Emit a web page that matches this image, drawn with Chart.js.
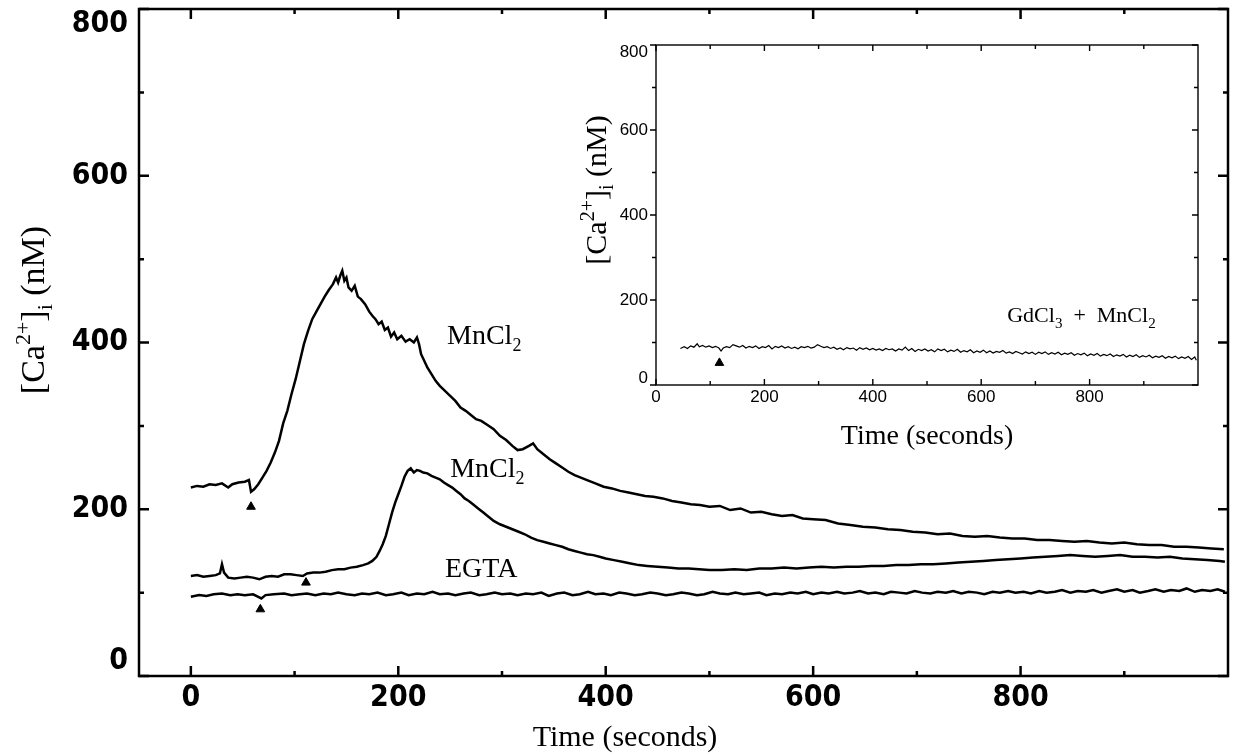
<!DOCTYPE html>
<html>
<head>
<meta charset="utf-8">
<script src="https://cdn.jsdelivr.net/npm/chart.js@4.4.1/dist/chart.umd.min.js"></script>
<style>
  body { margin: 0; background: #fff; }
  #wrap { position: relative; width: 1235px; height: 755px; overflow: hidden; }
  #main { position: absolute; left: 0; top: 0; }
  #inset { position: absolute; left: 560px; top: 30px; }
</style>
</head>
<body>
<div id="wrap">
  <canvas id="main" width="1235" height="755"></canvas>
  <canvas id="inset" width="655" height="430"></canvas>
</div>
<script>
// ---- data: [time (s), [Ca2+]i (nM)] ----
const mnHigh = [[0,226],[6,228],[12,227],[18,230],[24,229],[30,231],[36,226],[40,230],[46,232],[52,233],[56,235],[58,221],[61,224],[65,230],[69,238],[73,246],[77,256],[81,268],[85,282],[89,303],[93,318],[97,338],[101,356],[105,377],[109,398],[113,414],[117,428],[121,437],[125,446],[129,455],[133,463],[137,470],[140,478],[142,472],[144,480],[146,486],[148,474],[150,478],[152,466],[155,462],[158,468],[161,455],[164,452],[168,446],[172,437],[175,432],[178,428],[181,422],[184,425],[187,415],[190,418],[193,407],[196,412],[199,404],[203,408],[207,401],[211,404],[215,400],[218,406],[220,398],[222,386],[225,378],[228,370],[232,362],[236,354],[240,348],[245,342],[250,336],[255,330],[260,322],[265,318],[270,313],[275,308],[280,306],[286,301],[292,296],[298,288],[304,283],[310,276],[315,271],[320,272],[326,276],[330,279],[334,272],[340,266],[346,260],[352,255],[358,250],[364,245],[370,241],[376,238],[382,235],[390,231],[398,227],[406,225],[414,222],[422,220],[430,218],[438,216],[446,215],[455,213],[464,210],[473,208],[482,206],[491,205],[500,203],[510,204],[520,199],[530,201],[540,196],[550,197],[560,194],[570,192],[580,193],[590,189],[600,188],[612,187],[624,183],[636,181],[648,179],[660,178],[672,176],[684,175],[696,173],[708,172],[720,170],[732,171],[744,168],[756,167],[768,168],[780,166],[792,165],[804,165],[816,163],[828,163],[840,162],[852,161],[864,162],[876,160],[888,159],[900,160],[912,158],[924,157],[936,157],[948,155],[960,155],[972,154],[984,153],[996,152]];

const mnLow = [[0,120],[6,121],[12,119],[18,120],[24,121],[28,123],[30,134],[32,124],[36,118],[42,117],[48,118],[54,119],[60,118],[66,116],[72,119],[78,120],[84,119],[90,122],[96,122],[102,121],[108,120],[112,123],[118,124],[124,124],[130,125],[136,127],[142,128],[148,128],[154,130],[160,131],[166,133],[171,135],[175,138],[179,143],[182,150],[185,158],[188,168],[191,182],[194,196],[197,208],[200,218],[203,228],[206,239],[209,246],[212,249],[215,244],[218,247],[221,246],[224,244],[228,243],[232,240],[236,238],[240,236],[244,232],[248,229],[252,226],[256,222],[260,218],[264,213],[268,210],[272,206],[277,201],[282,196],[287,191],[292,186],[298,182],[304,179],[310,176],[316,173],[322,170],[328,166],[334,163],[340,161],[346,159],[352,157],[358,155],[364,152],[370,150],[376,148],[382,146],[388,145],[394,143],[400,141],[408,139],[416,137],[424,135],[432,133],[440,132],[450,131],[460,130],[470,129],[480,129],[490,128],[500,127],[512,127],[524,128],[536,127],[548,129],[560,129],[572,130],[584,129],[596,130],[608,131],[620,130],[632,131],[644,131],[656,132],[668,132],[680,133],[692,133],[704,134],[716,134],[728,135],[740,136],[752,137],[764,138],[776,139],[788,140],[800,141],[812,142],[824,143],[836,144],[848,145],[860,144],[872,143],[884,144],[896,145],[908,143],[920,143],[932,142],[944,143],[956,141],[968,140],[980,139],[992,138],[997,137]];

const egta = [[0,95],[8,97],[15,96],[22,98],[30,99],[38,97],[45,98],[52,97],[60,98],[65,95],[68,93],[72,97],[80,98],[90,99],[97,97],[105,98],[112,99],[120,97],[128,99],[135,98],[142,100],[150,98],[158,97],[165,99],[172,98],[180,100],[188,97],[195,98],[203,100],[210,97],[218,99],[225,98],[233,101],[240,98],[248,99],[255,97],[263,99],[270,100],[278,97],[285,98],[293,100],[300,98],[308,99],[315,97],[323,99],[330,98],[338,100],[345,96],[353,99],[360,100],[368,97],[375,98],[383,101],[390,98],[398,99],[405,97],[413,100],[420,99],[428,97],[435,98],[443,100],[450,99],[458,97],[465,98],[473,100],[480,99],[488,97],[495,98],[503,101],[510,99],[518,98],[525,100],[533,98],[540,99],[548,100],[555,97],[563,99],[570,98],[578,100],[585,99],[593,101],[600,98],[608,100],[615,99],[623,101],[630,99],[638,100],[645,102],[653,99],[660,100],[668,98],[675,101],[683,100],[690,99],[698,102],[705,100],[713,99],[720,101],[728,100],[735,102],[743,99],[750,101],[758,100],[765,98],[773,101],[780,100],[788,102],[795,100],[803,101],[810,99],[818,102],[825,100],[833,101],[840,103],[848,100],[855,102],[863,101],[870,103],[878,100],[885,102],[893,104],[900,101],[908,103],[915,100],[923,102],[930,104],[938,101],[945,103],[953,102],[960,105],[968,101],[975,103],[983,102],[990,104],[997,101]];

const gdMn = [[45,86],[52,90],[58,86],[64,92],[70,89],[76,97],[80,90],[86,93],[92,89],[98,92],[104,88],[110,91],[116,87],[120,80],[124,87],[130,90],[136,88],[142,95],[148,92],[154,89],[160,93],[166,87],[172,91],[178,88],[184,92],[190,86],[196,90],[202,88],[208,93],[214,85],[220,91],[226,88],[232,92],[238,87],[244,90],[250,86],[256,89],[262,85],[268,90],[274,88],[280,91],[286,87],[292,89],[298,95],[304,91],[310,88],[316,90],[322,86],[328,89],[334,84],[340,87],[346,83],[352,88],[358,85],[364,87],[370,82],[376,88],[382,84],[388,87],[394,83],[400,86],[406,82],[412,85],[418,81],[424,86],[430,83],[436,85],[442,80],[448,85],[454,82],[460,89],[466,81],[472,86],[478,79],[484,84],[490,81],[496,85],[502,80],[508,83],[514,78],[520,85],[526,81],[532,84],[538,78],[544,82],[550,79],[556,84],[562,77],[568,81],[574,78],[580,83],[586,76],[592,80],[598,77],[604,82],[610,76],[616,80],[622,75],[628,79],[634,77],[640,81],[646,75],[652,78],[658,74],[664,79],[670,76],[676,73],[682,78],[688,74],[694,77],[700,72],[706,77],[712,74],[718,78],[724,72],[730,76],[736,73],[742,77],[748,71],[754,75],[760,72],[766,76],[772,70],[778,74],[784,71],[790,75],[796,69],[802,73],[808,70],[814,74],[820,68],[826,72],[832,69],[838,73],[844,67],[850,71],[856,68],[862,72],[868,66],[874,70],[880,67],[886,71],[892,65],[898,69],[904,66],[910,70],[916,64],[922,68],[928,65],[934,69],[940,63],[946,67],[952,64],[958,68],[964,62],[970,66],[976,63],[982,67],[988,60],[994,66],[997,58]];

// addition markers (arrowheads)
const mainArrowX = [58, 111, 67];
const mainArrowY = [203, 112, 80];
const insetArrowX = [117];
const insetArrowY = [52];

// axes
const xMajor = [0, 200, 400, 600, 800];
const xMinor = [100, 300, 500, 700, 900];
const yMajor = [0, 200, 400, 600, 800];
const yMinor = [100, 300, 500, 700];

const serif = "'Liberation Serif', 'Times New Roman', serif";
const tickFont = "'DejaVu Sans Condensed', 'Liberation Sans Narrow', 'DejaVu Sans', sans-serif";
const insetFont = "'Liberation Sans', Arial, sans-serif";

// rich text helper: parts = [[text, shift]] with shift 1 = superscript, -1 = subscript
function drawRich(ctx, parts, x, y, size, align) {
  const fontFor = s => (s === 0 ? size : Math.round(size * 0.66)) + 'px ' + serif;
  let w = 0;
  parts.forEach(([t, s]) => { ctx.font = fontFor(s); w += ctx.measureText(t).width; });
  let cx = align === 'center' ? x - w / 2 : x;
  ctx.textAlign = 'left';
  ctx.textBaseline = 'alphabetic';
  ctx.fillStyle = '#000';
  parts.forEach(([t, s]) => {
    ctx.font = fontFor(s);
    const dy = s === 1 ? -size * 0.4 : s === -1 ? size * 0.25 : 0;
    ctx.fillText(t, cx, y + dy);
    cx += ctx.measureText(t).width;
  });
}

const caTitle = [['[Ca', 0], ['2+', 1], [']', 0], ['i', -1], [' (nM)', 0]];

const frameTicks = {
  id: 'frameTicks',
  afterDatasetsDraw(chart, args, o) {
    const { ctx, chartArea: a, scales: { x, y } } = chart;
    ctx.save();
    ctx.strokeStyle = '#000';
    ctx.lineWidth = o.width;
    ctx.strokeRect(a.left, a.top, a.right - a.left, a.bottom - a.top);
    ctx.lineWidth = o.tickWidth;
    ctx.beginPath();
    const xt = (v, len) => {
      const p = x.getPixelForValue(v);
      ctx.moveTo(p, a.bottom); ctx.lineTo(p, a.bottom - len);
      ctx.moveTo(p, a.top); ctx.lineTo(p, a.top + len);
    };
    const yt = (v, len) => {
      const p = y.getPixelForValue(v);
      ctx.moveTo(a.left, p); ctx.lineTo(a.left + o.leftDir * len, p);
      ctx.moveTo(a.right, p); ctx.lineTo(a.right - len, p);
    };
    xMajor.forEach(v => xt(v, o.long));
    xMinor.forEach(v => xt(v, o.short));
    yMajor.forEach(v => yt(v, o.long));
    yMinor.forEach(v => yt(v, o.short));
    ctx.stroke();
    // end labels of the y axis sit inside the frame height, as in the figure
    ctx.font = o.labelFont;
    ctx.fillStyle = '#000';
    ctx.textAlign = 'right';
    ctx.textBaseline = 'middle';
    ctx.fillText(String(y.max), a.left - o.labelPad, y.getPixelForValue(y.max) + o.edgeShift);
    ctx.fillText(String(y.min), a.left - o.labelPad, y.getPixelForValue(y.min) - o.edgeShift);
    ctx.restore();
  }
};

const textLayer = {
  id: 'textLayer',
  afterDraw(chart, args, o) {
    const { ctx, scales: { x, y } } = chart;
    ctx.save();
    o.labels.forEach(l => {
      drawRich(ctx, l.parts, x.getPixelForValue(l.x), y.getPixelForValue(l.y) + l.size * 0.35, l.size, 'left');
    });
    drawRich(ctx, [['Time (seconds)', 0]], o.xTitle.x, o.xTitle.y, o.xTitle.size, 'center');
    ctx.translate(o.yTitle.x, o.yTitle.y);
    ctx.rotate(-Math.PI / 2);
    drawRich(ctx, caTitle, 0, o.yTitle.size * 0.35, o.yTitle.size, 'center');
    ctx.restore();
  }
};

const pairs = arr => arr.map(([t, v]) => ({ x: t, y: v }));
const pts = (xs, ys) => xs.map((t, i) => ({ x: t, y: ys[i] }));

function lineSet(data, w) {
  return { type: 'line', data: pairs(data), borderColor: '#000', borderWidth: w,
    pointRadius: 0, tension: 0, fill: false };
}
function arrowSet(xs, ys, r) {
  return { type: 'scatter', data: pts(xs, ys), pointStyle: 'triangle', pointRadius: r,
    backgroundColor: '#000', borderColor: '#000', borderWidth: 1 };
}

function axes(xMin, xMax, font, pad, wLeft, hBottom) {
  const setTicks = list => s => { s.ticks = list.map(v => ({ value: v })); };
  return {
    x: { type: 'linear', min: xMin, max: xMax, afterBuildTicks: setTicks(xMajor),
      afterFit: s => { s.height = hBottom; s.paddingLeft = 0; s.paddingRight = 0; },
      grid: { display: false, drawTicks: false }, border: { display: false },
      ticks: { font, color: '#000', padding: pad.x, maxRotation: 0 } },
    y: { type: 'linear', min: 0, max: 800, afterBuildTicks: setTicks(yMajor),
      afterFit: s => { s.width = wLeft; s.paddingTop = 0; s.paddingBottom = 0; },
      grid: { display: false, drawTicks: false }, border: { display: false },
      ticks: { font, color: '#000', padding: pad.y,
        callback: v => (v === 0 || v === 800) ? '' : v } }
  };
}

new Chart(document.getElementById('main'), {
  data: { datasets: [lineSet(mnHigh, 2.5), lineSet(mnLow, 2.5), lineSet(egta, 2.5),
    arrowSet(mainArrowX, mainArrowY, 5)] },
  options: {
    responsive: false, animation: false, events: [],
    layout: { padding: { left: 0, right: 7, top: 9, bottom: 0 } },
    scales: axes(-50, 1000, { family: tickFont, size: 30, weight: 'bold' }, { x: 4, y: 11 }, 139, 79),
    plugins: {
      legend: { display: false }, tooltip: { enabled: false },
      frameTicks: { width: 2.5, tickWidth: 2.5, long: 10, short: 5, leftDir: 1,
        labelFont: 'bold 30px ' + tickFont, labelPad: 11, edgeShift: 15 },
      textLayer: {
        labels: [
          { parts: [['MnCl', 0], ['2', -1]], x: 247, y: 410, size: 28 },
          { parts: [['MnCl', 0], ['2', -1]], x: 250, y: 251, size: 28 },
          { parts: [['EGTA', 0]], x: 245, y: 131, size: 28 }
        ],
        xTitle: { x: 625, y: 746, size: 30 },
        yTitle: { x: 32, y: 310, size: 34 }
      }
    }
  },
  plugins: [frameTicks, textLayer]
});

new Chart(document.getElementById('inset'), {
  data: { datasets: [lineSet(gdMn, 1.2), arrowSet(insetArrowX, insetArrowY, 5)] },
  options: {
    responsive: false, animation: false, events: [],
    layout: { padding: { left: 0, right: 17, top: 15, bottom: 0 } },
    scales: axes(0, 1000, { family: insetFont, size: 17 }, { x: 2, y: 8 }, 96, 75),
    plugins: {
      legend: { display: false }, tooltip: { enabled: false },
      frameTicks: { width: 1.4, tickWidth: 1.4, long: 6, short: 4, leftDir: -1,
        labelFont: '17px ' + insetFont, labelPad: 8, edgeShift: 7 },
      textLayer: {
        labels: [
          { parts: [['GdCl', 0], ['3', -1], ['  +  MnCl', 0], ['2', -1]], x: 648, y: 166, size: 22 }
        ],
        xTitle: { x: 367, y: 414, size: 28 },
        yTitle: { x: 35, y: 160, size: 30 }
      }
    }
  },
  plugins: [frameTicks, textLayer]
});
</script>
</body>
</html>
